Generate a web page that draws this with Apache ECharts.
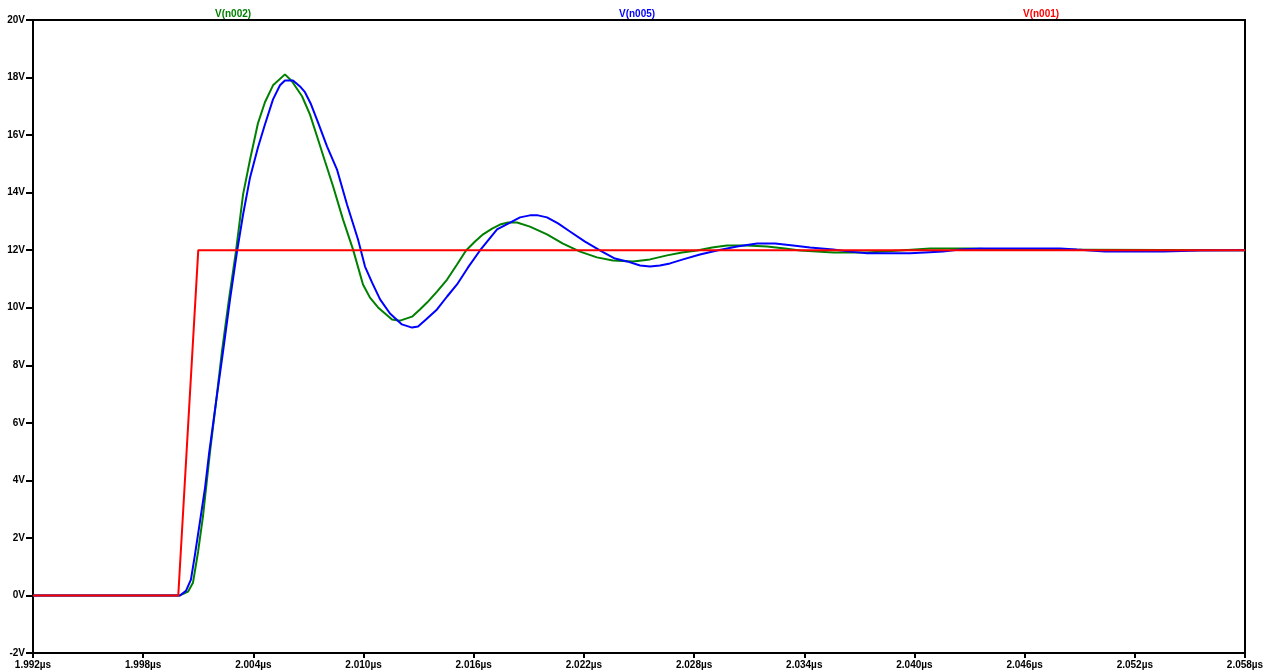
<!DOCTYPE html>
<html>
<head>
<meta charset="utf-8">
<script src="https://cdn.jsdelivr.net/npm/echarts@6/dist/echarts.min.js"></script>
<style>
html,body{margin:0;padding:0;background:#fff;}
#chart{width:1271px;height:672px;}
</style>
</head>
<body>
<div id="chart"></div>
<script>
// Time values in µs, voltages in V
const seriesNames = ['V(n002)', 'V(n005)', 'V(n001)'];
const seriesColors = ['#008000', '#0000ff', '#ff0000'];

const n002Time = [1.992, 2.00000, 2.00044, 2.00071, 2.00099, 2.00126, 2.00164, 2.00197, 2.00229, 2.00267, 2.00305,
  2.00344, 2.00382, 2.00425, 2.00463, 2.00507, 2.00572, 2.00610, 2.00665, 2.00708, 2.00747, 2.00790,
  2.00834, 2.00888, 2.00943, 2.00997, 2.01035, 2.01079, 2.01155, 2.01199, 2.01264, 2.01307, 2.01346,
  2.01400, 2.01455, 2.01509, 2.01558, 2.01607, 2.01651, 2.01700, 2.01743, 2.01787, 2.01836, 2.01906,
  2.01999, 2.02086, 2.02179, 2.02271, 2.02358, 2.02467, 2.02560, 2.02653, 2.02734, 2.02816, 2.02898,
  2.02979, 2.03088, 2.03197, 2.03295, 2.03377, 2.03557, 2.03742, 2.03921, 2.04085, 2.04303, 2.04466, 2.058];
const n002Volt = [0, 0, 0.13, 0.44, 1.52, 2.77, 5.00, 6.74, 8.48, 10.29, 11.95,
  13.94, 15.15, 16.41, 17.14, 17.73, 18.11, 17.87, 17.35, 16.72, 15.95, 15.09,
  14.22, 13.07, 12.02, 10.81, 10.35, 10.01, 9.59, 9.55, 9.69, 9.94, 10.18,
  10.56, 10.98, 11.50, 11.99, 12.30, 12.55, 12.75, 12.89, 12.96, 12.96, 12.82,
  12.55, 12.23, 11.95, 11.75, 11.64, 11.61, 11.68, 11.82, 11.92, 11.99, 12.09,
  12.16, 12.16, 12.13, 12.06, 11.99, 11.92, 11.92, 11.99, 12.06, 12.06, 12.02, 12.00];

const n005Time = [1.992, 2.00000, 2.00033, 2.00060, 2.00082, 2.00109, 2.00137, 2.00158, 2.00197, 2.00235, 2.00273,
  2.00311, 2.00344, 2.00382, 2.00425, 2.00463, 2.00507, 2.00545, 2.00572, 2.00616, 2.00654, 2.00681,
  2.00714, 2.00752, 2.00801, 2.00855, 2.00910, 2.00970, 2.01008, 2.01046, 2.01090, 2.01144, 2.01209,
  2.01264, 2.01297, 2.01340, 2.01400, 2.01455, 2.01509, 2.01569, 2.01634, 2.01727, 2.01798, 2.01852,
  2.01906, 2.01950, 2.01999, 2.02059, 2.02124, 2.02206, 2.02299, 2.02369, 2.02435, 2.02506, 2.02560,
  2.02614, 2.02669, 2.02740, 2.02832, 2.02925, 2.03034, 2.03143, 2.03241, 2.03339, 2.03431, 2.03557,
  2.03649, 2.03742, 2.03867, 2.03976, 2.04057, 2.04155, 2.04248, 2.04357, 2.04575, 2.04793, 2.04885,
  2.04956, 2.05038, 2.05174, 2.05354, 2.05555, 2.058];
const n005Volt = [0, 0, 0.16, 0.55, 1.42, 2.56, 3.75, 4.89, 6.74, 8.48, 10.29,
  11.95, 13.24, 14.53, 15.57, 16.37, 17.24, 17.73, 17.90, 17.90, 17.69, 17.49,
  17.07, 16.44, 15.61, 14.81, 13.59, 12.37, 11.43, 10.88, 10.29, 9.80, 9.42,
  9.31, 9.35, 9.59, 9.94, 10.39, 10.81, 11.40, 11.99, 12.72, 12.96, 13.14,
  13.21, 13.21, 13.14, 12.93, 12.65, 12.30, 11.95, 11.71, 11.61, 11.47, 11.43,
  11.47, 11.54, 11.68, 11.85, 11.99, 12.13, 12.23, 12.23, 12.16, 12.09, 12.02,
  11.95, 11.89, 11.89, 11.89, 11.92, 11.95, 12.02, 12.06, 12.06, 12.06, 12.02,
  11.99, 11.95, 11.95, 11.95, 11.99, 12.00];

const n001Time = [1.992, 1.99991, 2.00100, 2.058];
const n001Volt = [0, 0, 12, 12];

const xMin = 1.992, xMax = 2.058, xStep = 0.006;
const yMin = -2, yMax = 20, yStep = 2;

function pairs(t, v) { return t.map((x, i) => [x, v[i]]); }
const seriesData = [pairs(n002Time, n002Volt), pairs(n005Time, n005Volt), pairs(n001Time, n001Volt)];

const chart = echarts.init(document.getElementById('chart'));
const font = 'Liberation Sans, Arial, sans-serif';
const legendLefts = [210, 614, 1018];

chart.setOption({
  animation: false,
  backgroundColor: '#ffffff',
  legend: seriesNames.map((n, i) => ({
    data: [n],
    left: legendLefts[i],
    top: 7,
    icon: 'none',
    itemWidth: 0,
    itemGap: 0,
    padding: 0,
    selectedMode: false,
    textStyle: { color: seriesColors[i], fontFamily: font, fontWeight: 'bold', fontSize: 10, padding: 0 }
  })),
  grid: {
    left: 33, right: 26, top: 20, bottom: 19,
    show: true, borderColor: '#000', borderWidth: 2, backgroundColor: 'transparent'
  },
  xAxis: {
    type: 'value', min: xMin, max: xMax, interval: xStep,
    axisLine: { show: true, onZero: false, lineStyle: { color: '#000', width: 2 } },
    axisTick: { show: true, length: 5, lineStyle: { color: '#000', width: 2 } },
    splitLine: { show: false },
    axisLabel: {
      color: '#000', fontFamily: font, fontWeight: 'bold', fontSize: 10, margin: 7,
      formatter: v => v.toFixed(3) + 'µs'
    }
  },
  yAxis: {
    type: 'value', min: yMin, max: yMax, interval: yStep,
    axisLine: { show: true, onZero: false, lineStyle: { color: '#000', width: 2 } },
    axisTick: { show: true, length: 7, lineStyle: { color: '#000', width: 2 } },
    splitLine: { show: false },
    axisLabel: {
      color: '#000', fontFamily: font, fontWeight: 'bold', fontSize: 10, margin: 8,
      formatter: v => Math.round(v) + 'V'
    }
  },
  series: seriesNames.map((n, i) => ({
    name: n,
    type: 'line',
    data: seriesData[i],
    showSymbol: false,
    symbol: 'none',
    smooth: false,
    lineStyle: { color: seriesColors[i], width: 2 },
    itemStyle: { color: seriesColors[i] },
    z: 2 + i
  }))
});
</script>
</body>
</html>
